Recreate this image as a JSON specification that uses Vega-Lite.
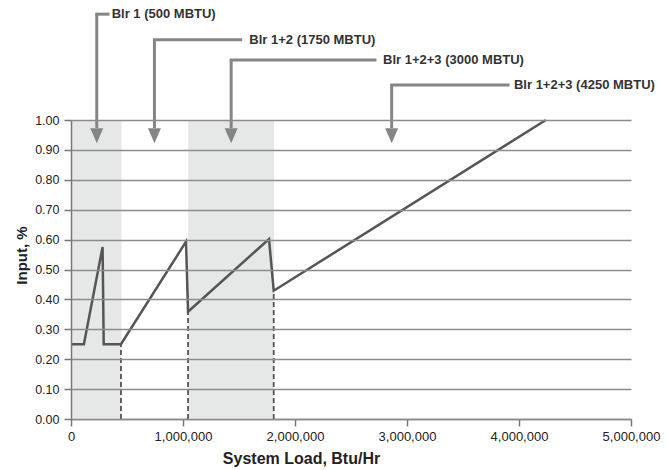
{
  "$schema": "https://vega.github.io/schema/vega-lite/v6.json",
  "width": 560,
  "height": 299,
  "autosize": {"type": "none"},
  "padding": {"left": 71, "top": 120, "right": 38, "bottom": 51},
  "config": {
    "view": {"stroke": null},
    "font": "Liberation Sans",
    "axis": {
      "labelFont": "Liberation Sans", "titleFont": "Liberation Sans",
      "labelColor": "#222222", "titleColor": "#222222", "titleFontWeight": "bold",
      "domainColor": "#777777", "domainWidth": 1.5, "tickColor": "#777777", "tickWidth": 1.5, "tickSize": 7,
      "labelOverlap": false, "labelFlush": false
    }
  },
  "datasets": {
    "curve": [
      {"load": 0, "input": 0.25},
      {"load": 115000, "input": 0.25},
      {"load": 282000, "input": 0.575},
      {"load": 292000, "input": 0.25},
      {"load": 446000, "input": 0.25},
      {"load": 1027000, "input": 0.593},
      {"load": 1045000, "input": 0.359},
      {"load": 1768000, "input": 0.602},
      {"load": 1810000, "input": 0.429},
      {"load": 4240000, "input": 1.0}
    ],
    "bands": [
      {"start": 0, "end": 450000, "lo": 0, "hi": 1},
      {"start": 1047000, "end": 1812000, "lo": 0, "hi": 1}
    ],
    "drops": [
      {"load": 446000, "lo": 0, "input": 0.25},
      {"load": 1045000, "lo": 0, "input": 0.359},
      {"load": 1810000, "lo": 0, "input": 0.429}
    ],
    "arrows": [
      {"ax": 230000, "xend": 330000, "ytop": 1.354, "yhead": 0.973, "ycenter": 0.947, "lx": 363000, "label": "Blr 1 (500 MBTU)"},
      {"ax": 745000, "xend": 1515000, "ytop": 1.268, "yhead": 0.973, "ycenter": 0.947, "lx": 1592000, "label": "Blr 1+2 (1750 MBTU)"},
      {"ax": 1430000, "xend": 2714000, "ytop": 1.201, "yhead": 0.973, "ycenter": 0.947, "lx": 2786000, "label": "Blr 1+2+3 (3000 MBTU)"},
      {"ax": 2863000, "xend": 3902000, "ytop": 1.117, "yhead": 0.973, "ycenter": 0.947, "lx": 3955000, "label": "Blr 1+2+3 (4250 MBTU)"}
    ]
  },
  "layer": [
    {
      "data": {"name": "bands"},
      "mark": {"type": "rect", "color": "#e6e7e7"},
      "encoding": {
        "x": {"field": "start", "type": "quantitative", "scale": {"domain": [0, 5000000], "nice": false},
          "axis": {"tickCount": 5, "format": ",d", "grid": false,
            "title": "System Load, Btu/Hr", "titleFontSize": 16, "titleBaseline": "middle", "titleX": 230, "titleY": 39,
            "labelFontSize": 13, "labelPadding": 4}},
        "x2": {"field": "end"},
        "y": {"field": "lo", "type": "quantitative", "scale": {"domain": [0, 1], "nice": false},
          "axis": {"tickCount": 10, "format": ".2f", "grid": true, "zindex": 1,
            "gridColor": "#8c8c8c", "gridWidth": 1.5,
            "title": "Input, %", "titleFontSize": 15, "titleBaseline": "middle", "titleX": -50, "titleY": 135,
            "labelFontSize": 12.5, "labelPadding": 5}},
        "y2": {"field": "hi"}
      }
    },
    {
      "data": {"name": "drops"},
      "mark": {"type": "rule", "color": "#555555", "strokeDash": [5, 3], "strokeWidth": 1.8},
      "encoding": {
        "x": {"field": "load", "type": "quantitative"},
        "y": {"field": "lo", "type": "quantitative"},
        "y2": {"field": "input"}
      }
    },
    {
      "data": {"name": "curve"},
      "mark": {"type": "line", "color": "#555555", "strokeWidth": 2.5, "strokeJoin": "miter"},
      "encoding": {
        "x": {"field": "load", "type": "quantitative"},
        "y": {"field": "input", "type": "quantitative"}
      }
    },
    {
      "data": {"name": "arrows"},
      "mark": {"type": "rule", "color": "#858585", "strokeWidth": 3},
      "encoding": {
        "x": {"field": "ax", "type": "quantitative"},
        "y": {"field": "ytop", "type": "quantitative"},
        "y2": {"field": "yhead"}
      }
    },
    {
      "data": {"name": "arrows"},
      "mark": {"type": "rule", "color": "#858585", "strokeWidth": 3, "strokeCap": "square"},
      "encoding": {
        "x": {"field": "ax", "type": "quantitative"},
        "x2": {"field": "xend"},
        "y": {"field": "ytop", "type": "quantitative"}
      }
    },
    {
      "data": {"name": "arrows"},
      "mark": {"type": "point", "shape": "M-1,-1.15L1,-1.15L0,1.15Z", "filled": true, "size": 169, "color": "#858585", "opacity": 1},
      "encoding": {
        "x": {"field": "ax", "type": "quantitative"},
        "y": {"field": "ycenter", "type": "quantitative"}
      }
    },
    {
      "data": {"name": "arrows"},
      "mark": {"type": "text", "align": "left", "baseline": "middle", "fontSize": 13, "fontWeight": "bold", "color": "#333333"},
      "encoding": {
        "x": {"field": "lx", "type": "quantitative"},
        "y": {"field": "ytop", "type": "quantitative"},
        "text": {"field": "label", "type": "nominal"}
      }
    }
  ]
}
